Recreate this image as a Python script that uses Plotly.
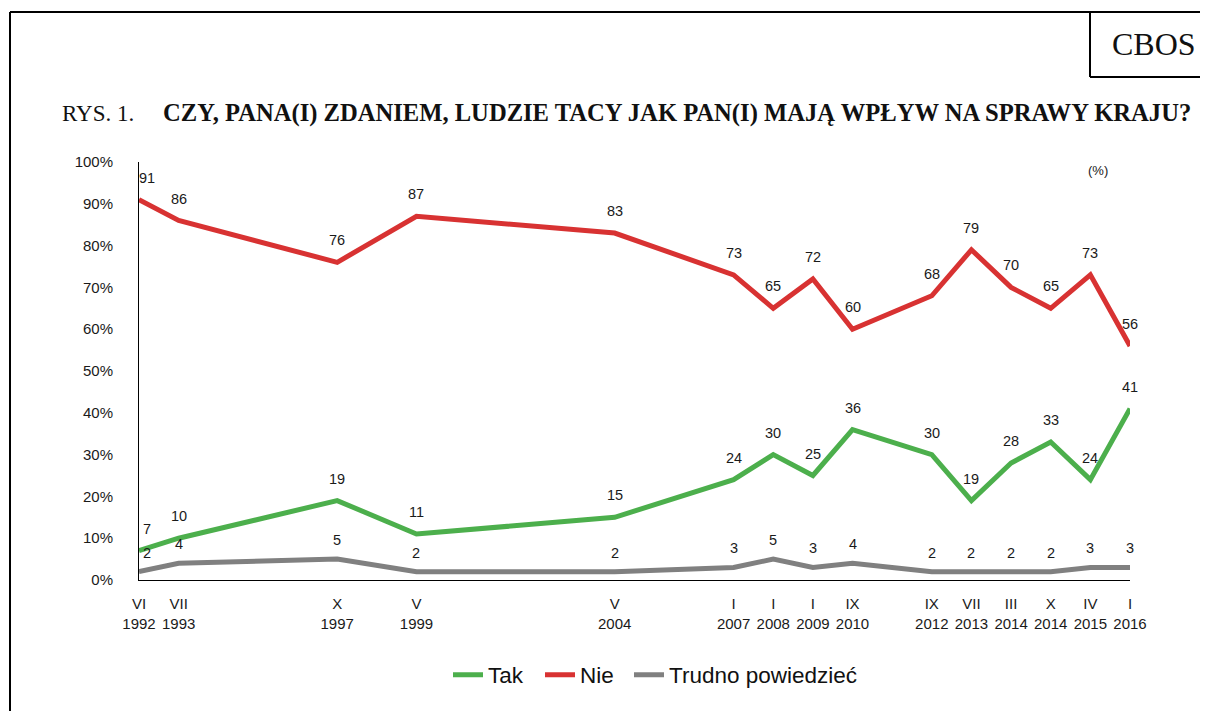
import plotly.graph_objects as go

# ---- data ----
slot = [0, 1, 5, 7, 12, 15, 16, 17, 18, 20, 21, 22, 23, 24, 25]
tick_labels = ["VI<br>1992", "VII<br>1993", "X<br>1997", "V<br>1999", "V<br>2004",
               "I<br>2007", "I<br>2008", "I<br>2009", "IX<br>2010", "IX<br>2012",
               "VII<br>2013", "III<br>2014", "X<br>2014", "IV<br>2015", "I<br>2016"]
series_names = ["Tak", "Nie", "Trudno powiedzieć"]
tak = [7, 10, 19, 11, 15, 24, 30, 25, 36, 30, 19, 28, 33, 24, 41]
nie = [91, 86, 76, 87, 83, 73, 65, 72, 60, 68, 79, 70, 65, 73, 56]
trudno = [2, 4, 5, 2, 2, 3, 5, 3, 4, 2, 2, 2, 2, 3, 3]
y_ticks = [0, 10, 20, 30, 40, 50, 60, 70, 80, 90, 100]
y_tick_text = [f"{v}%" for v in y_ticks]

GREEN = "#4caf4c"
RED = "#d83232"
GRAY = "#808080"
FONT = "Liberation Sans, Arial, sans-serif"
SERIF = "Liberation Serif, Times New Roman, serif"

OFF = 8  # page body margin
W, H = 1208 - OFF, 711 - OFF
# plot area in screen pixels
L, R, T, B = 139, 1130, 162, 580


def px(x):
    return (x - L) / (R - L)


def py(y):
    return (B - y) / (B - T)


fig = go.Figure()
legend_ids = ["legend", "legend2", "legend3"]
legend_x = [448, 540, 629]
for name, vals, col, lid in zip(series_names, (tak, nie, trudno), (GREEN, RED, GRAY), legend_ids):
    fig.add_trace(go.Scatter(x=slot, y=vals, mode="lines", name=name, legend=lid,
                             line=dict(color=col, width=5), hoverinfo="skip",
                             cliponaxis=False))

annotations = []
for vals, ys in ((tak, 22), (nie, 22), (trudno, 19)):
    for x, v in zip(slot, vals):
        annotations.append(dict(x=x, y=v, xref="x", yref="y", text=str(v),
                                showarrow=False, yshift=ys, xshift=(8 if x == 0 else 0),
                                font=dict(family=FONT, size=14.5, color="#1a1a1a")))

annotations += [
    dict(x=px(60), y=py(113), xref="paper", yref="paper", xanchor="left", yanchor="middle",
         text="RYS. 1.", showarrow=False, font=dict(family=SERIF, size=23, color="#111")),
    dict(x=px(161), y=py(113), xref="paper", yref="paper", xanchor="left", yanchor="middle",
         text="<b>CZY, PANA(I) ZDANIEM, LUDZIE TACY JAK PAN(I) MAJĄ WPŁYW NA SPRAWY KRAJU?</b>",
         showarrow=False, font=dict(family=SERIF, size=24.6, color="#111")),
    dict(x=px(1154), y=py(44), xref="paper", yref="paper", xanchor="center", yanchor="middle",
         text="CBOS", showarrow=False, font=dict(family=SERIF, size=32, color="#111")),
    dict(x=px(1098), y=py(170), xref="paper", yref="paper", xanchor="center", yanchor="middle",
         text="(%)", showarrow=False, font=dict(family=FONT, size=13, color="#1a1a1a")),
]

shapes = [
    dict(type="line", xref="paper", yref="paper", x0=px(10), x1=px(10), y0=py(12), y1=py(720),
         line=dict(color="black", width=2)),
    dict(type="line", xref="paper", yref="paper", x0=px(10), x1=px(1220), y0=py(12), y1=py(12),
         line=dict(color="black", width=2)),
    dict(type="line", xref="paper", yref="paper", x0=px(1090), x1=px(1090), y0=py(12), y1=py(77),
         line=dict(color="black", width=2)),
    dict(type="line", xref="paper", yref="paper", x0=px(1090), x1=px(1220), y0=py(77), y1=py(77),
         line=dict(color="black", width=2)),
]

legends = {}
for lid, lx in zip(legend_ids, legend_x):
    legends[lid] = dict(orientation="h", x=px(lx), y=py(675), xanchor="left", yanchor="middle",
                        font=dict(family=FONT, size=22.5, color="#111"), itemwidth=30,
                        bgcolor="rgba(0,0,0,0)")

fig.update_layout(
    width=W, height=H,
    margin=dict(l=L - OFF, r=W - (R - OFF), t=T - OFF, b=H - (B - OFF), autoexpand=False),
    paper_bgcolor="white", plot_bgcolor="white",
    font=dict(family=FONT, color="#1a1a1a"),
    showlegend=True,
    annotations=annotations,
    shapes=shapes,
    xaxis=dict(range=[0, 25], tickmode="array", tickvals=slot, ticktext=tick_labels,
               showgrid=False, zeroline=False, showline=True, linecolor="black", linewidth=1,
               ticks="", tickfont=dict(family=FONT, size=15, color="#1a1a1a"),
               ticklabelstandoff=10, fixedrange=True),
    yaxis=dict(range=[0, 100], tickmode="array", tickvals=y_ticks, ticktext=y_tick_text,
               showgrid=False, zeroline=False, showline=True, linecolor="black", linewidth=1,
               ticks="", tickfont=dict(family=FONT, size=15, color="#1a1a1a"),
               ticklabelstandoff=22, fixedrange=True),
    **legends,
)

fig.write_html("out.html")
